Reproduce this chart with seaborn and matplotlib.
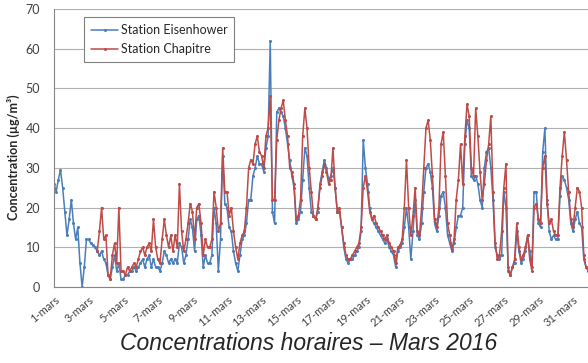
import numpy as np
import pandas as pd
import matplotlib
matplotlib.use("Agg")
import matplotlib.pyplot as plt
import matplotlib.dates as mdates
import seaborn as sns

# ---- data (3-hourly readings, March 2016) ----
eisenhower = [
    26, 24, 27, 29.5, 25, 19, 13, 17,
    22, 16, 12, 15, 6, 0, 5, 12,
    12, 11, 10.5, 10, 9, 8, 9, 7,
    6, 3, 2, 5, 8, 4, 6, 2,
    2, 3, 3, 4, 4, 5, 4, 5,
    6, 7, 5, 7, 8, 5, 7, 5,
    5, 4, 6, 9, 8, 6, 7, 6,
    7, 6, 11, 10, 6, 8, 12, 17,
    15, 9, 17, 18, 13, 5, 8, 6,
    6, 8, 20, 16, 4, 12, 33, 21,
    20, 15, 14, 9, 6, 4, 8, 12,
    13, 16, 22, 22, 28, 30, 33, 31,
    31, 29, 35, 38, 62, 19, 16, 44,
    45, 44, 43, 40, 36, 32, 28, 25,
    16, 17, 19, 27, 35, 33, 25, 19,
    18, 17, 19, 26, 29, 32, 30, 27,
    28, 30, 25, 19, 19, 15, 10, 7,
    6, 7, 7, 8, 9, 10, 14, 37,
    30, 26, 20, 17, 16, 15, 14, 13,
    12, 11, 12, 10, 9, 8, 5, 9,
    10, 11, 15, 20, 15, 7, 14, 22,
    13, 12, 16, 24, 30, 31, 29, 25,
    16, 14, 18, 23, 24, 20, 13, 11,
    9, 11, 15, 18, 18, 20, 36, 42,
    40, 28, 27, 28, 26, 22, 20, 30,
    34, 35, 30, 22, 10, 8, 7, 8,
    24, 20, 5, 3, 5, 6, 14, 9,
    6, 7, 9, 13, 9, 5, 24, 24,
    16, 15, 34, 40, 22, 14, 12, 13,
    12, 12, 23, 28, 27, 25, 22, 16,
    14, 17, 19, 16, 15, 7, 5, 4,
]
chapitre = [
    9, 14, 20, 12,
    13, 3, 2, 8, 11, 6, 20, 4,
    4, 3, 5, 4, 5, 6, 5, 7,
    9, 10, 8, 10, 11, 9, 17, 10,
    7, 6, 12, 17, 13, 10, 13, 9,
    13, 10, 26, 14, 9, 12, 16, 21,
    19, 12, 20, 21, 16, 8, 12, 10,
    10, 12, 24, 20, 14, 16, 35, 24,
    24, 18, 20, 14, 10, 7, 11, 13,
    14, 20, 30, 32, 31, 36, 38, 34,
    33, 30, 38, 40, 48, 22, 22, 37,
    42, 45, 47, 42, 38, 30, 29, 26,
    17, 18, 22, 38, 45, 40, 30, 24,
    18, 17, 20, 25, 28, 31, 29, 26,
    27, 35, 25, 19, 20, 15, 11, 8,
    7, 7, 8, 9, 10, 11, 15, 25,
    28, 24, 19, 17, 18, 16, 15, 14,
    13, 12, 13, 11, 10, 9, 6, 10,
    10.5, 12, 20, 32, 20, 13, 18, 25,
    14, 13, 20, 30, 40, 42, 37, 28,
    17, 15, 20, 36, 39, 28, 16, 13,
    9.5, 12, 22, 27, 36, 26, 38, 46,
    43, 30, 28, 45, 38, 29, 22, 26,
    32, 36, 43, 24, 11, 7, 8, 14,
    25, 31, 4, 3, 5, 7, 16, 10,
    7, 8, 10, 13, 7, 4, 20, 21,
    17, 16, 30, 33, 21, 16, 17, 14,
    13, 13, 25, 33, 39, 32, 24, 17,
    15, 20, 25, 24, 20, 8, 5, 5,
]
series_names = ["Station Eisenhower", "Station Chapitre"]
tick_days = [1, 3, 5, 7, 9, 11, 13, 15, 17, 19, 21, 23, 25, 27, 29, 31]
tick_labels = [f"{d}-mars" for d in tick_days]
y_ticks = [0, 10, 20, 30, 40, 50, 60, 70]

t_e = pd.date_range("2016-03-01 00:00", periods=len(eisenhower), freq="3h")
t_c = pd.date_range("2016-03-03 12:00", periods=len(chapitre), freq="3h")
df = pd.concat([
    pd.DataFrame({"time": t_e, "value": eisenhower, "station": series_names[0]}),
    pd.DataFrame({"time": t_c, "value": chapitre, "station": series_names[1]}),
], ignore_index=True)

sns.set_style("white")
plt.rcParams["font.family"] = ["Lato", "DejaVu Sans"]

fig = plt.figure(figsize=(5.88, 3.63), dpi=100)
ax = fig.add_axes([54 / 588, 1 - 287 / 363, 1 - 54 / 588, (287 - 9) / 363])

palette = {series_names[0]: "#4a7ebb", series_names[1]: "#be4b48"}
sns.lineplot(data=df, x="time", y="value", hue="station", hue_order=series_names,
             palette=palette, marker="o", markersize=2.2, markeredgewidth=0,
             linewidth=1.1, ax=ax)

x0 = pd.Timestamp("2016-03-01")
ax.set_xlim(mdates.date2num(x0), mdates.date2num(x0) + (588 - 54) / 17.3)
ax.set_ylim(0, 70)
ax.set_yticks(y_ticks)
ax.set_xticks([mdates.date2num(pd.Timestamp(2016, 3, d)) for d in tick_days])
ax.set_xticklabels(tick_labels, rotation=40, ha="right", rotation_mode="anchor",
                   fontsize=8, color="#404040")
ax.tick_params(axis="y", labelsize=9, colors="#404040", length=4, color="#868686",
               width=0.8, pad=6)
ax.tick_params(axis="x", length=4, color="#868686", width=0.8, pad=1)
ax.grid(axis="y", color="#b0b0b0", linewidth=0.8)
ax.set_axisbelow(True)
for s in ["top", "right"]:
    ax.spines[s].set_visible(False)
for s in ["left", "bottom"]:
    ax.spines[s].set_color("#868686")
    ax.spines[s].set_linewidth(0.8)

ax.set_xlabel("")
ax.set_ylabel("Concentration (µg/m³)", fontsize=9, fontweight="bold")
ax.yaxis.set_label_coords(-0.064, 0.468)

leg = ax.legend(loc="upper left", bbox_to_anchor=(0.056, 0.971), borderaxespad=0,
                fontsize=9, frameon=True, fancybox=False, edgecolor="#808080",
                framealpha=1, handlelength=2.2, handletextpad=0.2, borderpad=0.55,
                labelspacing=0.6)
leg.get_frame().set_linewidth(0.8)

fig.text(309 / 588, 1 - 343 / 363, "Concentrations horaires \u2013 Mars 2016", ha="center",
         va="center", fontsize=16.5, style="italic", family=["Liberation Sans", "DejaVu Sans"])

fig.savefig("out.png", dpi=100)
